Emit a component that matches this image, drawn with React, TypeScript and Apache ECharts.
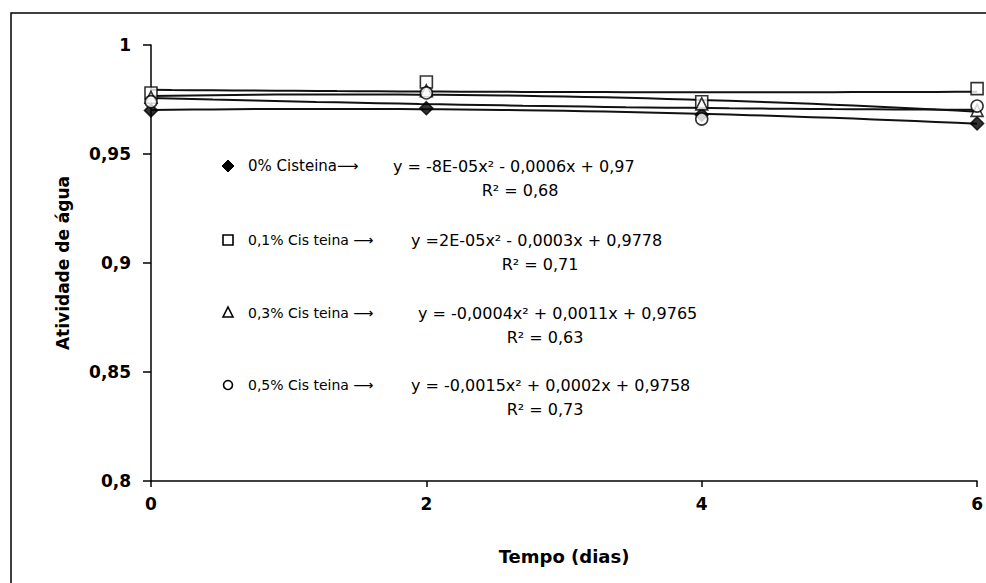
import React, { useEffect, useRef } from "react";
import * as echarts from "echarts";

const days = [0, 2, 4, 6];
const cist0 = [0.970, 0.971, 0.968, 0.964];
const cist01 = [0.978, 0.983, 0.974, 0.980];
const cist03 = [0.976, 0.979, 0.973, 0.970];
const cist05 = [0.974, 0.978, 0.966, 0.972];
const yTicks = [0.8, 0.85, 0.9, 0.95, 1];
const xTicks = [0, 2, 4, 6];

const legendRows = [
  { label: "0% Cisteina\u27f6", eq: "y = -8E-05x\u00b2 - 0,0006x + 0,97", r2: "R\u00b2 = 0,68", symbol: "diamond", filled: true },
  { label: "0,1% Cis teina \u27f6", eq: "y =2E-05x\u00b2 - 0,0003x + 0,9778", r2: "R\u00b2 = 0,71", symbol: "rect", filled: false },
  { label: "0,3% Cis teina \u27f6", eq: "y = -0,0004x\u00b2 + 0,0011x + 0,9765", r2: "R\u00b2 = 0,63", symbol: "triangle", filled: false },
  { label: "0,5% Cis teina \u27f6", eq: "y = -0,0015x\u00b2 + 0,0002x + 0,9758", r2: "R\u00b2 = 0,73", symbol: "circle", filled: false },
];

const FONT = "'DejaVu Sans', 'Liberation Sans', Arial, sans-serif";

function quadFit(xs: number[], ys: number[]) {
  let s0 = 0, s1 = 0, s2 = 0, s3 = 0, s4 = 0, t0 = 0, t1 = 0, t2 = 0;
  for (let i = 0; i < xs.length; i++) {
    const x = xs[i], y = ys[i];
    s0 += 1; s1 += x; s2 += x * x; s3 += x * x * x; s4 += x * x * x * x;
    t0 += y; t1 += x * y; t2 += x * x * y;
  }
  const M = [[s0, s1, s2, t0], [s1, s2, s3, t1], [s2, s3, s4, t2]];
  for (let c = 0; c < 3; c++) {
    let p = c;
    for (let r = c + 1; r < 3; r++) if (Math.abs(M[r][c]) > Math.abs(M[p][c])) p = r;
    [M[c], M[p]] = [M[p], M[c]];
    for (let r = 0; r < 3; r++) {
      if (r === c) continue;
      const f = M[r][c] / M[c][c];
      for (let k = c; k < 4; k++) M[r][k] -= f * M[c][k];
    }
  }
  const a = M[0][3] / M[0][0], b = M[1][3] / M[1][1], c2 = M[2][3] / M[2][2];
  const pts: number[][] = [];
  const xMin = xs[0], xMax = xs[xs.length - 1];
  for (let i = 0; i <= 40; i++) {
    const x = xMin + ((xMax - xMin) * i) / 40;
    pts.push([x, a + b * x + c2 * x * x]);
  }
  return pts;
}

export default function App() {
  const ref = useRef<HTMLDivElement>(null);
  useEffect(() => {
    if (!ref.current) return;
    const chart = echarts.init(ref.current, undefined, { renderer: "svg" });
    const seriesData = [cist0, cist01, cist03, cist05];
    const trend = seriesData.map((ys) => ({
      type: "line",
      data: quadFit(days, ys),
      showSymbol: false,
      symbol: "none",
      lineStyle: { color: "#111", width: 2 },
      z: 2,
      silent: true,
    }));
    const marks = seriesData.map((ys, i) => ({
      type: "scatter",
      data: days.map((d, j) => [d, ys[j]]),
      symbol: legendRows[i].symbol,
      symbolSize: legendRows[i].symbol === "diamond" ? 13 : 12,
      itemStyle: {
        color: legendRows[i].filled ? "#000" : "#fff",
        borderColor: "#000",
        borderWidth: 1.6,
      },
      z: 3,
    }));

    const graphics: any[] = [
      {
        type: "rect",
        shape: { x: 11, y: 13, width: 1100, height: 700 },
        style: { fill: "none", stroke: "#000", lineWidth: 1.5 },
        silent: true,
      },
    ];
    const rowY = [166, 240, 313, 385];
    const eqX = [393, 411, 418, 411];
    const r2X = [520, 540, 545, 545];
    const labelSize = [15, 14, 14, 14];
    legendRows.forEach((row, i) => {
      const y = rowY[i];
      const sym = row.symbol;
      let shape: any;
      if (sym === "diamond") {
        shape = { type: "polygon", shape: { points: [[228, y - 6], [234, y], [228, y + 6], [222, y]] }, style: { fill: "#000", stroke: "#000", lineWidth: 1 } };
      } else if (sym === "rect") {
        shape = { type: "rect", shape: { x: 223, y: y - 5, width: 10, height: 10 }, style: { fill: "#fff", stroke: "#000", lineWidth: 1.6 } };
      } else if (sym === "triangle") {
        shape = { type: "polygon", shape: { points: [[228, y - 6], [233, y + 4], [223, y + 4]] }, style: { fill: "#fff", stroke: "#000", lineWidth: 1.6 } };
      } else {
        shape = { type: "circle", shape: { cx: 228, cy: y, r: 4.5 }, style: { fill: "#fff", stroke: "#000", lineWidth: 1.6 } };
      }
      graphics.push(shape);
      graphics.push({
        type: "text",
        x: 248,
        y,
        style: { text: row.label, fill: "#000", font: `${labelSize[i]}px ${FONT}`, textVerticalAlign: "middle", textAlign: "left" },
      });
      graphics.push({
        type: "text",
        x: eqX[i],
        y,
        style: { text: row.eq, fill: "#000", font: `16px ${FONT}`, textVerticalAlign: "middle", textAlign: "left" },
      });
      graphics.push({
        type: "text",
        x: r2X[i],
        y: y + 24,
        style: { text: row.r2, fill: "#000", font: `16px ${FONT}`, textVerticalAlign: "middle", textAlign: "center" },
      });
    });

    chart.setOption({
      animation: false,
      backgroundColor: "#fff",
      grid: { left: 151, right: 8, top: 45, bottom: 102, containLabel: false },
      xAxis: {
        type: "value",
        min: xTicks[0],
        max: xTicks[xTicks.length - 1],
        interval: 2,
        name: "Tempo (dias)",
        nameLocation: "middle",
        nameGap: 66,
        nameTextStyle: { color: "#000", fontWeight: "bold", fontSize: 18, fontFamily: FONT },
        axisLine: { lineStyle: { color: "#000", width: 1.5 } },
        axisTick: { show: true, inside: false, length: 6, lineStyle: { color: "#000", width: 1.5 } },
        axisLabel: { color: "#000", fontWeight: "bold", fontSize: 17, fontFamily: FONT, margin: 14 },
        splitLine: { show: false },
      },
      yAxis: {
        type: "value",
        min: yTicks[0],
        max: yTicks[yTicks.length - 1],
        interval: 0.05,
        name: "Atividade de água",
        nameLocation: "middle",
        nameGap: 80,
        nameRotate: 90,
        nameTextStyle: { color: "#000", fontWeight: "bold", fontSize: 17, fontFamily: FONT },
        axisLine: { show: true, lineStyle: { color: "#000", width: 1.5 } },
        axisTick: { show: true, inside: false, length: 8, lineStyle: { color: "#000", width: 1.5 } },
        axisLabel: {
          color: "#000",
          fontWeight: "bold",
          fontSize: 17,
          fontFamily: FONT,
          margin: 20,
          formatter: (v: number) => String(+v.toFixed(2)).replace(".", ","),
        },
        splitLine: { show: false },
      },
      series: [...trend, ...marks],
      graphic: graphics,
    });
    return () => chart.dispose();
  }, []);
  return <div ref={ref} style={{ position: "fixed", left: 0, top: 0, width: 986, height: 583 }} />;
}
